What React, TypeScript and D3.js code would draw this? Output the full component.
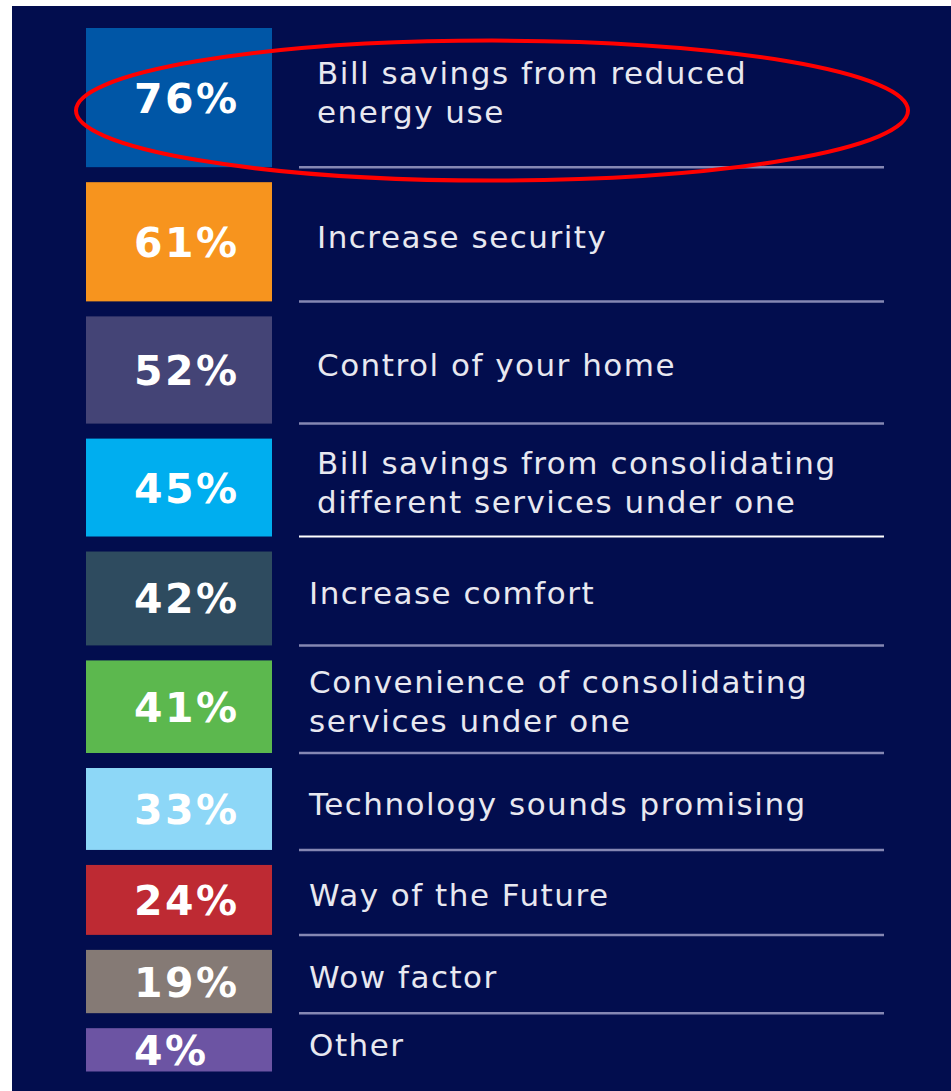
import React from "react";
import * as d3 from "d3";

const values = [76, 61, 52, 45, 42, 41, 33, 24, 19, 4];
const labels: string[][] = [
  ["Bill savings from reduced", "energy use"],
  ["Increase security"],
  ["Control of your home"],
  ["Bill savings from consolidating", "different services under one"],
  ["Increase comfort"],
  ["Convenience of consolidating", "services under one"],
  ["Technology sounds promising"],
  ["Way of the Future"],
  ["Wow factor"],
  ["Other"],
];
const colors = [
  "#0056a6",
  "#f7941e",
  "#444476",
  "#00aeef",
  "#2e4b5f",
  "#5cb84e",
  "#8dd7f7",
  "#be2a33",
  "#857a75",
  "#6c54a3",
];
const highlightIndex = 0;

const W = 951;
const H = 1091;
const BG = "#020d4e";

export default function App() {
  const boxX = 86;
  const boxW = 186;
  const top = 28;
  const gap = 15;
  const heightScale = d3.scaleLinear().domain([0, 80]).range([38, 144.5]);
  const heights = values.map((v) => heightScale(v));
  const tops = heights.map((_, i) => top + d3.sum(heights.slice(0, i)) + gap * i);

  const lineX1 = 299;
  const lineX2 = 884;
  const hb = tops[highlightIndex];
  const hh = heights[highlightIndex];

  return (
    <svg
      width={W}
      height={H}
      style={{ position: "absolute", left: 0, top: 0, display: "block" }}
    >
      <rect x={0} y={0} width={W} height={H} fill="#ffffff" />
      <rect x={12} y={6} width={W - 12} height={H - 6} fill={BG} />
      {values.map((v, i) => {
        const y = tops[i];
        const h = heights[i];
        const cy = y + h / 2;
        const lines = labels[i];
        const lx = i < 4 ? 317 : 309;
        const lh = 39.5;
        const base = cy + 6 - ((lines.length - 1) * lh) / 2;
        return (
          <g key={i}>
            <rect x={boxX} y={y} width={boxW} height={h} fill={colors[i]} />
            <text
              x={134}
              y={cy + 15}
              fill="#ffffff"
              fontFamily="'DejaVu Sans', Verdana, sans-serif"
              fontWeight="bold"
              fontSize={41}
              letterSpacing={2.5}
            >
              {v}%
            </text>
            {lines.map((t, j) => (
              <text
                key={j}
                x={lx}
                y={base + j * lh}
                fill="#e8e8f0"
                fontFamily="'DejaVu Sans', Verdana, sans-serif"
                fontSize={31}
                letterSpacing={1.5}
              >
                {t}
              </text>
            ))}
            {i < values.length - 1 && (
              <line
                x1={lineX1}
                x2={lineX2}
                y1={y + h}
                y2={y + h}
                stroke={i === 3 ? "#ffffff" : "#8587b3"}
                strokeWidth={i === 3 ? 2 : 2.5}
              />
            )}
          </g>
        );
      })}
      <ellipse
        cx={492}
        cy={hb + hh / 2 + 13}
        rx={416}
        ry={70}
        fill="none"
        stroke="#ff0000"
        strokeWidth={4}
      />
    </svg>
  );
}
